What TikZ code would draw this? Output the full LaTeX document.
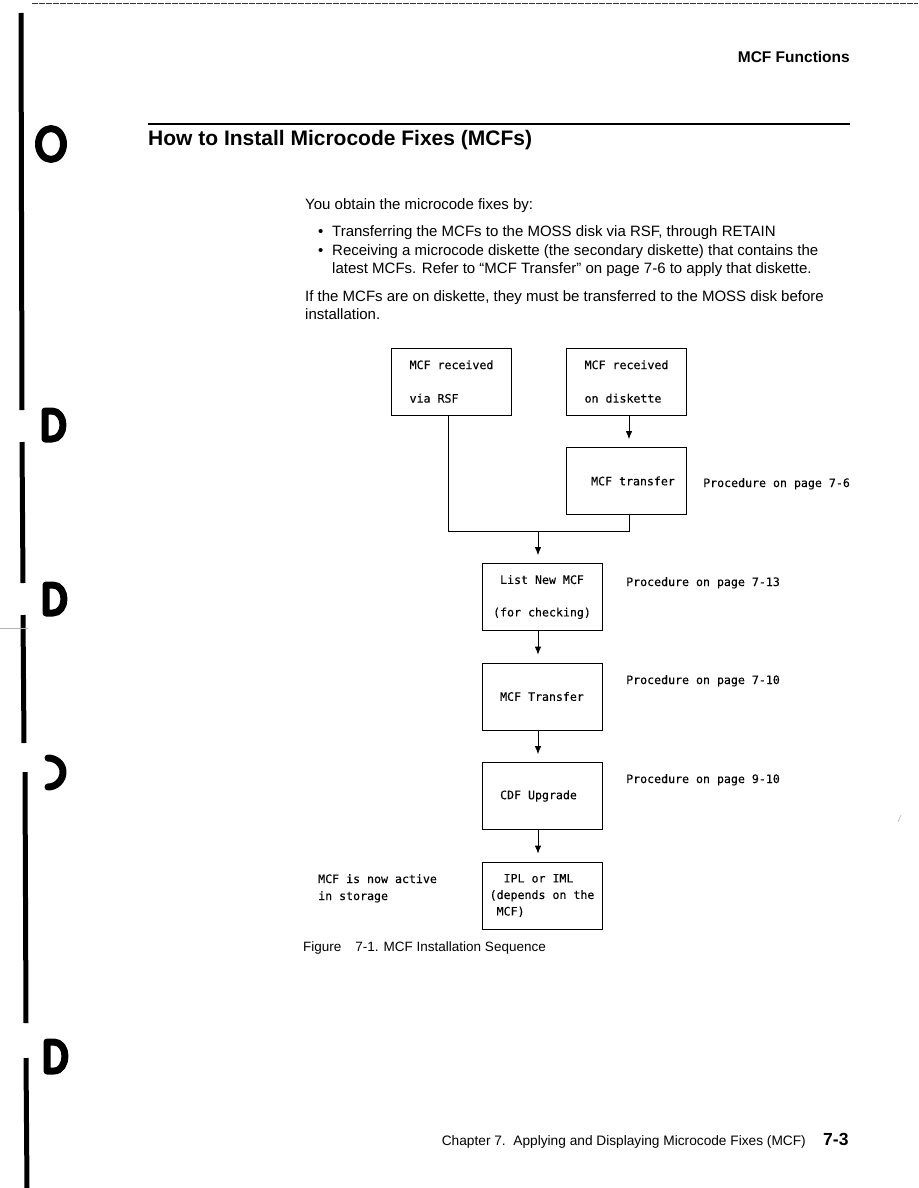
\documentclass[tikz,border=0pt]{standalone}
\usepackage{fontspec}
\setmainfont{Liberation Sans}
\setmonofont[FakeBold=0.25]{DejaVu Sans Mono}
\usetikzlibrary{arrows.meta}
\newcommand\mtxt{\ttfamily\fontsize{11.6}{16.5}\selectfont}
\begin{document}
\begin{tikzpicture}[x=1pt,y=-1pt,
  box/.style={draw,line width=0.8pt,minimum width=120pt,minimum height=67pt,inner sep=0pt,font=\mtxt},
  link/.style={line width=0.8pt},
  arr/.style={link,-{Latex[length=8pt,width=6.5pt]}},
  txt/.style={anchor=base west,inner sep=0pt,font=\fontsize{15}{18}\selectfont},
  mono/.style={anchor=base west,inner sep=0pt,font=\mtxt},
  hole/.style={line width=7pt,line cap=round,line join=round},
  bar/.style={line width=5pt}]
\useasboundingbox (0,0) rectangle (918,1188);

% scan artefacts: top rule, left bar, punch holes
\draw[gray!40!black,line width=1pt,dash pattern=on 6pt off 1pt] (32,4) -- (918,4);
\draw[bar] (21,13) -- (22,410);
\draw[bar] (22,442) -- (23,583);
\draw[bar] (23,615) -- (24,743);
\draw[bar] (25,772) -- (26,1023);
\draw[bar] (26,1058) -- (27,1188);
\draw[gray!60,line width=0.6pt] (0,628) -- (28,628);
\draw[hole] (51,144) ellipse [x radius=12.5pt,y radius=15.5pt];
\draw[hole] (45,411) -- (45,439) -- (52,439) to[out=0,in=-90] (63,425) to[out=90,in=0] (52,411) -- cycle;
\draw[hole] (46,585) -- (46,613) -- (53,613) to[out=0,in=-90] (64,599) to[out=90,in=0] (53,585) -- cycle;
\draw[hole] (48,758) to[out=0,in=90] (63,772) to[out=-90,in=0] (48,787);
\draw[hole] (47,1042) -- (47,1071) -- (54,1071) to[out=0,in=-90] (65,1056) to[out=90,in=0] (54,1042) -- cycle;
\draw[gray!60,line width=0.6pt] (898,822) -- (901,815);

% header
\node[anchor=base east,inner sep=0pt,font=\fontsize{15.5}{18}\selectfont\bfseries] (hdr) at (850,63) {MCF Functions};
\draw[line width=1.2pt] (148,124) -- (850,124);
\node[anchor=base west,inner sep=0pt,font=\fontsize{21}{24}\selectfont\bfseries] (title) at (148,146) {How to Install Microcode Fixes (MCFs)};

% body text
\node[txt] (t1) at (305,209) {You obtain the microcode fixes by:};
\node[txt] (b1) at (318,236) {\textbullet};
\node[txt] (t2) at (332,236) {Transferring the MCFs to the MOSS disk via RSF, through RETAIN};
\node[txt] (b2) at (318,255) {\textbullet};
\node[txt] (t3) at (332,255) {Receiving a microcode diskette (the secondary diskette) that contains the};
\node[txt] (t4) at (332,273) {latest MCFs. Refer to ``MCF Transfer'' on page 7-6 to apply that diskette.};
\node[txt] (t5) at (305,301) {If the MCFs are on diskette, they must be transferred to the MOSS disk before};
\node[txt] (t6) at (305,319) {installation.};

% flowchart boxes
\node[box,align=left] (A) at (451.5,381.5) {MCF received\\[17pt]via RSF};
\node[box,align=left] (B) at (626.5,381.5) {MCF received\\[17pt]on diskette};
\node[box] (C) at (626.5,481) {\hspace*{13pt}MCF transfer};
\node[box,align=center] (D) at (542,597) {List New MCF\\[16pt](for checking)};
\node[box] (E) at (542,696.5) {MCF Transfer};
\node[box] (F) at (542,796) {CDF Upgrade\hspace*{7pt}};
\node[box,align=left] (G) at (542,895.5) {\hspace*{14pt}IPL or IML\\(depends on the\\\hspace*{7pt}MCF)};

% side labels
\node[mono] (lc) at (703,487) {Procedure on page 7-6};
\node[mono] (ld) at (626,586) {Procedure on page 7-13};
\node[mono] (le) at (626,684) {Procedure on page 7-10};
\node[mono] (lf) at (626,783) {Procedure on page 9-10};
\node[mono] (lg) at (318,883) {MCF is now active};
\node[mono] (lg2) at (318,900) {in storage};

% connectors
\coordinate (j) at (538,531);
\draw[arr] ([xshift=2.5pt]B.south) -- ([xshift=2.5pt,yshift=8pt]C.north);
\draw[link] ([xshift=-3.5pt]A.south) |- ([xshift=2.5pt]C.south |- j) -- ([xshift=2.5pt]C.south);
\draw[arr] (j) -- ([yshift=8pt]D.north -| j);
\draw[arr] ([xshift=-4pt]D.south) -- ([xshift=-4pt,yshift=8pt]E.north);
\draw[arr] ([xshift=-4pt]E.south) -- ([xshift=-4pt,yshift=8pt]F.north);
\draw[arr] ([xshift=-4pt]F.south) -- ([xshift=-4pt,yshift=8pt]G.north);

% caption and footer
\node[anchor=base west,inner sep=0pt,font=\fontsize{13.5}{16}\selectfont] (cap) at (303,951) {Figure\hspace{14pt}7-1. MCF Installation Sequence};
\node[anchor=base east,inner sep=0pt,font=\fontsize{13.7}{16}\selectfont] (foot) at (806,1145) {Chapter 7.\ \ Applying and Displaying Microcode Fixes (MCF)};
\node[anchor=base west,inner sep=0pt,font=\fontsize{17.5}{20}\selectfont\bfseries] (pg) at (823,1145) {7-3};
\end{tikzpicture}
\end{document}
